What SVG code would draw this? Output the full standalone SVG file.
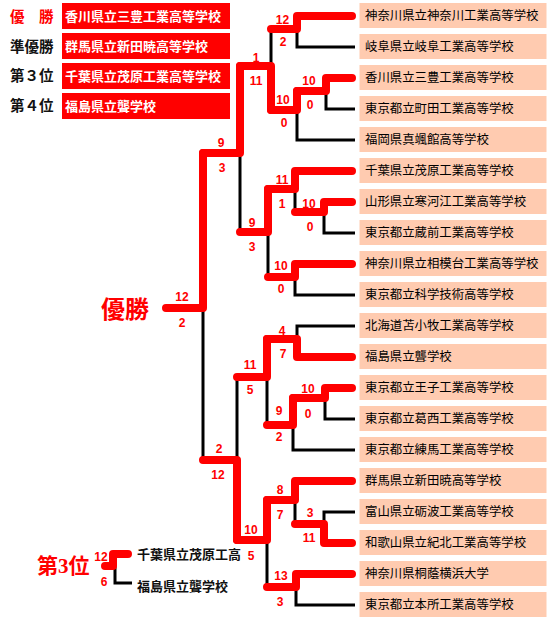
<svg xmlns="http://www.w3.org/2000/svg" width="550" height="618" viewBox="0 0 550 618">
<style>
.box{fill:#FFCBB0}
.tn{font-family:"Noto Sans CJK JP","Liberation Sans",sans-serif;font-size:12.4px;fill:#000}
.lg{fill:#FF0000}
.lt{font-family:"Noto Sans CJK JP","Liberation Sans",sans-serif;font-size:13px;font-weight:bold;fill:#fff}
.ll{font-family:"Liberation Serif","Noto Sans CJK JP",serif;font-size:14.5px;font-weight:bold;fill:#111}
.red{fill:none;stroke:#FF0000;stroke-width:8;stroke-linecap:round;stroke-linejoin:round}
.blk{fill:none;stroke:#000;stroke-width:3}
.sc{font-family:"Liberation Sans",Arial,sans-serif;font-size:12px;font-weight:bold;fill:#FF0000;text-anchor:middle}
.big{font-family:"Liberation Serif","Noto Sans CJK JP",serif;font-weight:bold;fill:#FF0000}
.t3{font-family:"Noto Sans CJK JP","Liberation Sans",sans-serif;font-size:13px;font-weight:bold;fill:#111}
</style>

<g id="legend">
  <g id="legend-1"><text class="ll" x="10" y="22" style="fill:#FF0000">優　勝</text><rect class="lg" x="62" y="3" width="168" height="26"/><text class="lt" x="65" y="21">香川県立三豊工業高等学校</text></g>
  <g id="legend-2"><text class="ll" x="10" y="51.5">準優勝</text><rect class="lg" x="62" y="33" width="168" height="26"/><text class="lt" x="65" y="51">群馬県立新田暁高等学校</text></g>
  <g id="legend-3"><text class="ll" x="10" y="80.5">第３位</text><rect class="lg" x="62" y="63" width="168" height="26"/><text class="lt" x="65" y="81">千葉県立茂原工業高等学校</text></g>
  <g id="legend-4"><text class="ll" x="10" y="110.5">第４位</text><rect class="lg" x="62" y="93" width="168" height="26"/><text class="lt" x="65" y="111">福島県立聾学校</text></g>
</g>

<g id="teams">
  <g id="t1"><rect class="box" x="359.5" y="3" width="187" height="25"/><text class="tn" x="365" y="20">神奈川県立神奈川工業高等学校</text></g>
  <g id="t2"><rect class="box" x="359.5" y="34" width="187" height="25"/><text class="tn" x="365" y="51">岐阜県立岐阜工業高等学校</text></g>
  <g id="t3"><rect class="box" x="359.5" y="65" width="187" height="25"/><text class="tn" x="365" y="82">香川県立三豊工業高等学校</text></g>
  <g id="t4"><rect class="box" x="359.5" y="96" width="187" height="25"/><text class="tn" x="365" y="113">東京都立町田工業高等学校</text></g>
  <g id="t5"><rect class="box" x="359.5" y="127" width="187" height="25"/><text class="tn" x="365" y="144">福岡県真颯館高等学校</text></g>
  <g id="t6"><rect class="box" x="359.5" y="158" width="187" height="25"/><text class="tn" x="365" y="175">千葉県立茂原工業高等学校</text></g>
  <g id="t7"><rect class="box" x="359.5" y="189" width="187" height="25"/><text class="tn" x="365" y="206">山形県立寒河江工業高等学校</text></g>
  <g id="t8"><rect class="box" x="359.5" y="220" width="187" height="25"/><text class="tn" x="365" y="237">東京都立蔵前工業高等学校</text></g>
  <g id="t9"><rect class="box" x="359.5" y="251" width="187" height="25"/><text class="tn" x="365" y="268">神奈川県立相模台工業高等学校</text></g>
  <g id="t10"><rect class="box" x="359.5" y="282" width="187" height="25"/><text class="tn" x="365" y="299">東京都立科学技術高等学校</text></g>
  <g id="t11"><rect class="box" x="359.5" y="313" width="187" height="25"/><text class="tn" x="365" y="330">北海道苫小牧工業高等学校</text></g>
  <g id="t12"><rect class="box" x="359.5" y="344" width="187" height="25"/><text class="tn" x="365" y="361">福島県立聾学校</text></g>
  <g id="t13"><rect class="box" x="359.5" y="375" width="187" height="25"/><text class="tn" x="365" y="392">東京都立王子工業高等学校</text></g>
  <g id="t14"><rect class="box" x="359.5" y="406" width="187" height="25"/><text class="tn" x="365" y="423">東京都立葛西工業高等学校</text></g>
  <g id="t15"><rect class="box" x="359.5" y="437" width="187" height="25"/><text class="tn" x="365" y="454">東京都立練馬工業高等学校</text></g>
  <g id="t16"><rect class="box" x="359.5" y="468" width="187" height="25"/><text class="tn" x="365" y="485">群馬県立新田暁高等学校</text></g>
  <g id="t17"><rect class="box" x="359.5" y="499" width="187" height="25"/><text class="tn" x="365" y="516">富山県立砺波工業高等学校</text></g>
  <g id="t18"><rect class="box" x="359.5" y="530" width="187" height="25"/><text class="tn" x="365" y="547">和歌山県立紀北工業高等学校</text></g>
  <g id="t19"><rect class="box" x="359.5" y="561" width="187" height="25"/><text class="tn" x="365" y="578">神奈川県桐蔭横浜大学</text></g>
  <g id="t20"><rect class="box" x="359.5" y="592" width="187" height="25"/><text class="tn" x="365" y="609">東京都立本所工業高等学校</text></g>
</g>

<g id="connectors">
  <g id="losers">
    <path class="blk" d="M297,29 V47 H355"/>
    <path class="blk" d="M326,91 V109 H355"/>
    <path class="blk" d="M297,110 V140 H355"/>
    <path class="blk" d="M271,29 V66"/>
    <path class="blk" d="M324,212 V233 H355"/>
    <path class="blk" d="M295,189 V212"/>
    <path class="blk" d="M295,277 V295 H355"/>
    <path class="blk" d="M268,232 V277"/>
    <path class="blk" d="M240,153 V232"/>
    <path class="blk" d="M203,308 V460"/>
    <path class="blk" d="M297,339 V326 H355"/>
    <path class="blk" d="M325,398 V419 H355"/>
    <path class="blk" d="M293,425 V450 H355"/>
    <path class="blk" d="M267,377 V425"/>
    <path class="blk" d="M324,524 V512 H355"/>
    <path class="blk" d="M295,500 V524"/>
    <path class="blk" d="M296,587 V605 H355"/>
    <path class="blk" d="M267,540 V587"/>
    <path class="blk" d="M237,377 V460"/>
    <path class="blk" d="M115,566 V583 H132"/>
  </g>
  <g id="winners">
    <path class="red" d="M352,16 H297 V29 H271"/>
    <path class="red" d="M352,78 H326 V91 H297"/>
    <path class="red" d="M297,91 V110 H271"/>
    <path class="red" d="M271,110 V66 H240"/>
    <path class="red" d="M352,202 H324 V212 H295"/>
    <path class="red" d="M352,171 H295 V189 H268"/>
    <path class="red" d="M352,264 H295 V277 H268"/>
    <path class="red" d="M268,189 V232 H240"/>
    <path class="red" d="M240,66 V153 H203"/>
    <path class="red" d="M203,153 V308 H166"/>
    <path class="red" d="M352,357 H297 V339 H267"/>
    <path class="red" d="M352,388 H325 V398 H293"/>
    <path class="red" d="M293,398 V425 H267"/>
    <path class="red" d="M267,339 V377 H237"/>
    <path class="red" d="M352,543 H324 V524 H295"/>
    <path class="red" d="M352,481 H295 V500 H267"/>
    <path class="red" d="M352,574 H296 V587 H267"/>
    <path class="red" d="M267,500 V540 H237"/>
    <path class="red" d="M237,540 V460 H203"/>
    <path class="red" d="M128,554 H113 V566 H105"/>
  </g>
  <g id="scores">
    <text class="sc" x="282.5" y="24">12</text><text class="sc" x="283" y="46">2</text>
    <text class="sc" x="309" y="84.5">10</text><text class="sc" x="310" y="108.5">0</text>
    <text class="sc" x="283" y="103.5">10</text><text class="sc" x="284" y="126.5">0</text>
    <text class="sc" x="256" y="61.5">1</text><text class="sc" x="256" y="84.5">11</text>
    <text class="sc" x="221" y="146.5">9</text><text class="sc" x="222" y="171.5">3</text>
    <text class="sc" x="282" y="183.5">11</text><text class="sc" x="282" y="207.5">1</text>
    <text class="sc" x="309" y="207.5">10</text><text class="sc" x="310" y="230.5">0</text>
    <text class="sc" x="252" y="226.5">9</text><text class="sc" x="252" y="250.5">3</text>
    <text class="sc" x="281" y="269.5">10</text><text class="sc" x="281" y="292.5">0</text>
    <text class="sc" x="182" y="301">12</text><text class="sc" x="182" y="326.5">2</text>
    <text class="sc" x="282" y="334.5">4</text><text class="sc" x="283" y="357.5">7</text>
    <text class="sc" x="250" y="368.5">11</text><text class="sc" x="250" y="393.5">5</text>
    <text class="sc" x="308" y="392.5">10</text><text class="sc" x="308" y="417.5">0</text>
    <text class="sc" x="279" y="414.5">9</text><text class="sc" x="279" y="440.5">2</text>
    <text class="sc" x="219" y="452.5">2</text><text class="sc" x="218" y="478.5">12</text>
    <text class="sc" x="280" y="493.5">8</text><text class="sc" x="280" y="518.5">7</text>
    <text class="sc" x="310" y="516.5">3</text><text class="sc" x="309" y="541.5">11</text>
    <text class="sc" x="251" y="533.5">10</text><text class="sc" x="251" y="559.5">5</text>
    <text class="sc" x="281" y="579.5">13</text><text class="sc" x="280" y="605.5">3</text>
    <text class="sc" x="101" y="560.5">12</text><text class="sc" x="104" y="585.5">6</text>
  </g>
</g>

<g id="champion"><text class="big" x="101" y="318" style="font-size:24px">優勝</text></g>

<g id="third-place">
  <text class="big" x="37" y="573" style="font-size:21px">第3位</text>
  <text class="t3" x="137" y="559">千葉県立茂原工高</text>
  <text class="t3" x="137" y="591">福島県立聾学校</text>
</g>
</svg>
